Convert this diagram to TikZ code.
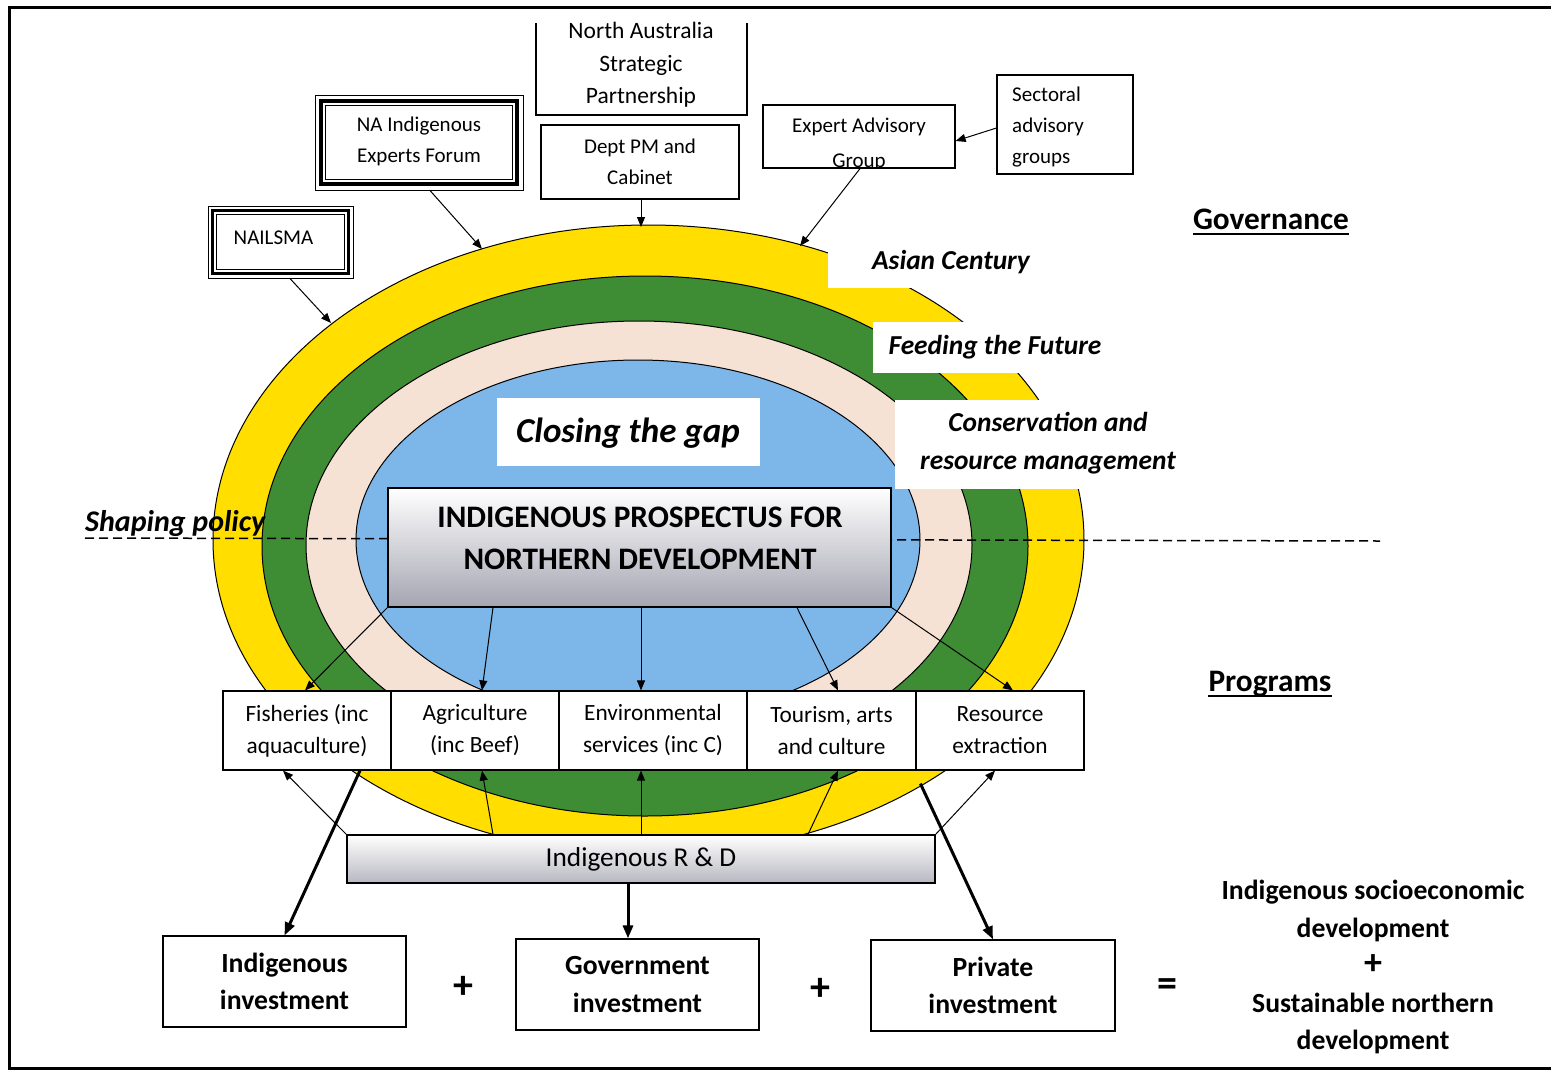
\documentclass[tikz,border=0pt]{standalone}
\usepackage{fontspec}
\setmainfont{Carlito}
\usetikzlibrary{arrows.meta}
\definecolor{ylw}{RGB}{255,222,0}
\definecolor{grn}{RGB}{62,140,52}
\definecolor{pnk}{RGB}{246,226,212}
\definecolor{blu}{RGB}{125,182,232}
\definecolor{shd}{RGB}{165,165,178}
\begin{document}
\begin{tikzpicture}[x=1pt,y=-1pt,
  box/.style={draw, line width=1.2pt, fill=white, inner sep=0pt},
  sm/.style={font=\fontsize{21}{31}\selectfont, align=center, inner sep=0pt},
  pg/.style={font=\fontsize{23.3}{32}\selectfont, align=center, inner sep=0pt},
  bi/.style={font=\fontsize{27.4}{38}\selectfont\bfseries\itshape, align=center, inner sep=0pt},
  bb/.style={font=\fontsize{27.7}{37.5}\selectfont\bfseries, align=center, inner sep=0pt},
  sg/.style={font=\fontsize{40}{40}\selectfont\bfseries, inner sep=0pt},
  hd/.style={font=\fontsize{31.3}{36}\selectfont\bfseries, inner sep=0pt},
  lbl/.style={fill=white, inner sep=0pt},
  arr/.style={-{Triangle[length=10pt,width=8pt]}, line width=1pt},
  tarr/.style={-{Triangle[length=13pt,width=10pt]}, line width=3pt},
  ell/.style={draw=black, line width=1pt}]
\useasboundingbox (0,0) rectangle (1551,1072);
\fill[white] (0,0) rectangle (1551,1072);
% frame
\draw[line width=3pt] (1560,7) -- (9,7) -- (9,1068) -- (1560,1068);

% ellipses
\filldraw[ell, fill=ylw] (648.5,540) ellipse [x radius=435.5, y radius=315];
\filldraw[ell, fill=grn] (645,546) ellipse [x radius=383, y radius=270];
\filldraw[ell, fill=pnk] (639,545) ellipse [x radius=333, y radius=224];
\filldraw[ell, fill=blu] (638,540) ellipse [x radius=282, y radius=180];

% dashed line
\coordinate (dl) at (85,538);
\coordinate (dr) at (1380,541);
\draw[line width=1.5pt, dash pattern=on 9pt off 5pt] (dl) -- (dr);
\node[font=\fontsize{30}{34}\selectfont\bfseries\itshape, inner sep=0pt, anchor=base west] (shp) at (85,531) {Shaping policy};

% label boxes
\node[lbl, minimum width=212, minimum height=43] (acbox) at (934,266.5) {};
\node[bi] (ac) at (951,262) {Asian Century};
\node[lbl, minimum width=242, minimum height=51] (ffbox) at (994,347.5) {};
\node[bi] (ff) at (995,347) {Feeding the Future};
\node[lbl, minimum width=292, minimum height=89] (crbox) at (1041,444.5) {};
\node[bi] (cr) at (1048,443) {Conservation and\\resource management};
\node[lbl, minimum width=263, minimum height=68] (ctg) at (628.5,432) {};
\node[font=\fontsize{35}{40}\selectfont\bfseries\itshape, inner sep=0pt] (ctgt) at (628,433) {Closing the gap};

% headings
\node[hd, anchor=base] (gov) at (1271,229) {Governance};
\draw[line width=2pt] ([yshift=-5pt]gov.base west) -- ([yshift=-5pt]gov.base east);
\node[hd, anchor=base] (prg) at (1270,691) {Programs};
\draw[line width=2pt] ([yshift=-5pt]prg.base west) -- ([yshift=-5pt]prg.base east);

% top boxes
\node[sm, font=\fontsize{23.5}{32.5}\selectfont] (nasp) at (641,65) {North Australia\\Strategic\\Partnership};
\draw[line width=1.2pt] (536,23) -- (536,115) -- (747,115) -- (747,23);
\node[box, sm, minimum width=198, minimum height=74] (dept) at (640,162) {Dept PM and\\Cabinet};

\node[draw, line width=1pt, minimum width=208, minimum height=95, inner sep=0pt] (naief) at (419,142.5) {};
\draw[line width=3.5pt] ([xshift=6.5pt,yshift=-6.5pt]naief.north west) rectangle ([xshift=-6.5pt,yshift=6.5pt]naief.south east);
\draw[line width=1pt] ([xshift=11pt,yshift=-11pt]naief.north west) rectangle ([xshift=-11pt,yshift=11pt]naief.south east);
\node[sm] (naieft) at (419,141) {NA Indigenous\\Experts Forum};

\node[draw, line width=1pt, minimum width=145, minimum height=72, inner sep=0pt] (nailsma) at (280.5,242) {};
\draw[line width=3.5pt] ([xshift=5pt,yshift=-5pt]nailsma.north west) rectangle ([xshift=-5pt,yshift=5pt]nailsma.south east);
\draw[line width=1pt] ([xshift=9pt,yshift=-9pt]nailsma.north west) rectangle ([xshift=-9pt,yshift=9pt]nailsma.south east);
\node[sm] (nailsmat) at (273.5,238) {NAILSMA};

\node[box, minimum width=192, minimum height=63] (eag) at (859,136.5) {};
\begin{scope}
\clip (eag.south west) rectangle (eag.north east);
\node[sm, anchor=base] (eagt1) at (859,132) {Expert Advisory};
\node[sm, anchor=base] (eagt2) at (859,167) {Group};
\end{scope}
\draw[line width=1.2pt] (eag.south west) rectangle (eag.north east);

\node[box, minimum width=136, minimum height=99] (sect) at (1065,124.5) {};
\node[sm, align=left, anchor=west] (sectt) at (1012,127) {Sectoral\\advisory\\groups};

% top connectors
\coordinate (yA) at (800,246);
\coordinate (yB) at (641,227);
\coordinate (yC) at (482,249);
\coordinate (yD) at (331,323);
\draw[arr] ([yshift=-3.5pt]sect.west) -- ([yshift=-4.5pt]eag.east);
\draw[arr] ([xshift=1pt]eag.south) -- (yA);
\draw[arr] ([xshift=1pt]dept.south) -- (yB);
\draw[arr] ([xshift=11pt]naief.south) -- (yC);
\draw[arr] ([xshift=9.5pt]nailsma.south) -- (yD);

% main box
\node[draw, line width=1.2pt, top color=white, middle color=white, bottom color=shd, minimum width=503, minimum height=119, inner sep=0pt] (main) at (639.5,547.5) {};
\node[font=\fontsize{31.3}{42}\selectfont\bfseries, align=center, inner sep=0pt] (maint) at (640,538) {INDIGENOUS PROSPECTUS FOR\\NORTHERN DEVELOPMENT};

% programs
\node[box, pg, minimum width=168, minimum height=79] (fish) at (307,730.5) {Fisheries (inc\\aquaculture)};
\node[box, pg, minimum width=168, minimum height=79] (agri) at (475,730.5) {Agriculture\\(inc Beef)};
\node[box, pg, minimum width=188, minimum height=79] (env) at (653,730.5) {Environmental\\services (inc C)};
\node[box, pg, minimum width=169, minimum height=79] (tour) at (831.5,730.5) {Tourism, arts\\and culture};
\node[box, pg, minimum width=168, minimum height=79] (res) at (1000,730.5) {Resource\\extraction};

\draw[arr] (main.south west) -- ([xshift=-2pt]fish.north);
\draw[arr] ([xshift=-146.5pt]main.south) -- ([xshift=7pt]agri.north);
\draw[arr] ([xshift=1.5pt]main.south) -- ([xshift=-12pt]env.north);
\draw[arr] ([xshift=157.5pt]main.south) -- ([xshift=6.5pt]tour.north);
\draw[arr] (main.south east) -- ([xshift=13pt]res.north);

% R&D
\node[draw, line width=1.2pt, top color=white, middle color=white, bottom color=shd!80, minimum width=588, minimum height=48, inner sep=0pt, font=\fontsize{27.3}{30}\selectfont] (rd) at (641,859) {Indigenous R \& D};

\draw[arr] (rd.north west) -- ([xshift=-24pt]fish.south);
\draw[arr] ([xshift=-148pt]rd.north) -- ([xshift=7pt]agri.south);
\draw[arr] (rd.north) -- ([xshift=-12pt]env.south);
\draw[arr] ([xshift=167pt]rd.north) -- ([xshift=6.5pt]tour.south);
\draw[arr] (rd.north east) -- ([xshift=-5pt]res.south);

% investments
\node[box, bb, minimum width=243, minimum height=91] (inv1) at (284.5,981.5) {Indigenous\\investment};
\node[box, bb, minimum width=243, minimum height=91] (inv2) at (637.5,984.5) {Government\\investment};
\node[box, bb, minimum width=244, minimum height=91] (inv3) at (993,985.5) {Private\\investment};
\node[sg] (p1) at (463,987) {+};
\node[sg] (p2) at (820,989) {+};
\node[sg] (eq) at (1167,988) {=};
\node[bb] (outc) at (1373,967) {Indigenous socioeconomic\\development\\{\fontsize{36}{37.5}\selectfont +}\\Sustainable northern\\development};

\draw[tarr] ([xshift=53pt]fish.south) -- (inv1.north);
\draw[tarr] ([xshift=-13pt]rd.south) -- ([xshift=-9.5pt]inv2.north);
\draw[tarr] ([xshift=5pt,yshift=-13pt]res.south west) -- (inv3.north);
\end{tikzpicture}
\end{document}
